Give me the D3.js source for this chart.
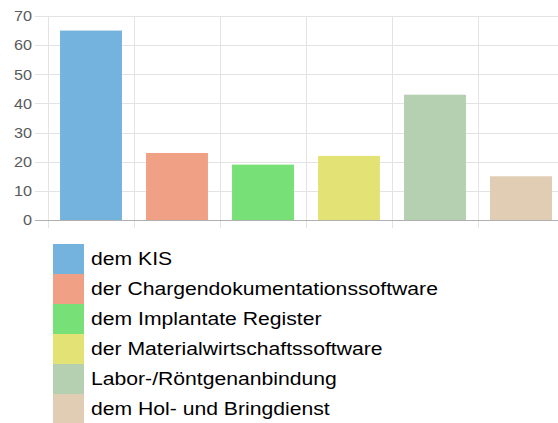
<!DOCTYPE html>
<html>
<head>
<meta charset="utf-8">
<script src="https://cdn.jsdelivr.net/npm/d3@7"></script>
<style>
  body { margin: 0; background: #fff; }
  svg { display: block; font-family: "Liberation Sans", Arial, sans-serif; }
</style>
</head>
<body>
<div id="chart"></div>
<script>
// Bar chart with legend below
const categories = ["dem KIS", "der Chargendokumentationssoftware", "dem Implantate Register",
  "der Materialwirtschaftssoftware", "Labor-/Röntgenanbindung", "dem Hol- und Bringdienst"];
const values = [65, 23, 19, 22, 43, 15];
const colors = ["#74b3de", "#f0a084", "#77e077", "#e3e375", "#b5d0b1", "#e0cdb4"];
const yTicks = [0, 10, 20, 30, 40, 50, 60, 70];

function drawChart() {
  const width = 558, height = 423;
  const plot = { left: 48, right: 564, top: 16, bottom: 220 };

  const svg = d3.select("#chart").append("svg")
    .attr("width", width)
    .attr("height", height);

  const x = d3.scaleBand()
    .domain(categories)
    .range([plot.left, plot.right])
    .paddingInner(0)
    .paddingOuter(0);

  const y = d3.scaleLinear()
    .domain([0, 70])
    .range([plot.bottom, plot.top]);

  // horizontal grid
  svg.append("g").selectAll("line")
    .data(yTicks)
    .enter().append("line")
    .attr("x1", plot.left - 13)
    .attr("x2", width)
    .attr("y1", d => Math.round(y(d)) + 0.5)
    .attr("y2", d => Math.round(y(d)) + 0.5)
    .attr("stroke", d => d === 0 ? "#b0b0b0" : "#e3e3e3")
    .attr("stroke-width", 1);

  // vertical grid
  const vx = categories.map(c => x(c));
  svg.append("g").selectAll("line")
    .data(vx)
    .enter().append("line")
    .attr("x1", d => Math.round(d) + 0.5)
    .attr("x2", d => Math.round(d) + 0.5)
    .attr("y1", plot.top)
    .attr("y2", plot.bottom + 8)
    .attr("stroke", "#e3e3e3");

  // y labels
  svg.append("g").selectAll("text")
    .data(yTicks)
    .enter().append("text")
    .attr("transform", d => `translate(32,${y(d)}) scale(1.08,1)`)
    .attr("dy", "0.35em")
    .attr("text-anchor", "end")
    .attr("font-size", 15)
    .attr("fill", "#5a5a5a")
    .text(d => d);

  // bars
  const bw = x.bandwidth() * 0.72;
  svg.append("g").selectAll("rect")
    .data(values)
    .enter().append("rect")
    .attr("x", (d, i) => x(categories[i]) + (x.bandwidth() - bw) / 2)
    .attr("y", d => y(d))
    .attr("width", bw)
    .attr("height", d => y(0) - y(d))
    .attr("fill", (d, i) => colors[i]);

  // redraw zero line on top
  svg.append("line")
    .attr("x1", plot.left - 13).attr("x2", width)
    .attr("y1", Math.round(y(0)) + 0.5).attr("y2", Math.round(y(0)) + 0.5)
    .attr("stroke", "#b0b0b0");

  // legend
  const legend = svg.append("g").attr("transform", "translate(53,244)");
  const rowH = 30;
  const items = legend.selectAll("g")
    .data(categories)
    .enter().append("g")
    .attr("transform", (d, i) => `translate(0,${i * rowH})`);
  items.append("rect")
    .attr("width", 31)
    .attr("height", rowH)
    .attr("fill", (d, i) => colors[i]);
  items.append("text")
    .attr("transform", `translate(38,${rowH / 2}) scale(1.21,1)`)
    .attr("dy", "0.35em")
    .attr("font-size", 17.5)
    .attr("fill", "#000")
    .text(d => d);
}

document.addEventListener("DOMContentLoaded", drawChart);
</script>
</body>
</html>
